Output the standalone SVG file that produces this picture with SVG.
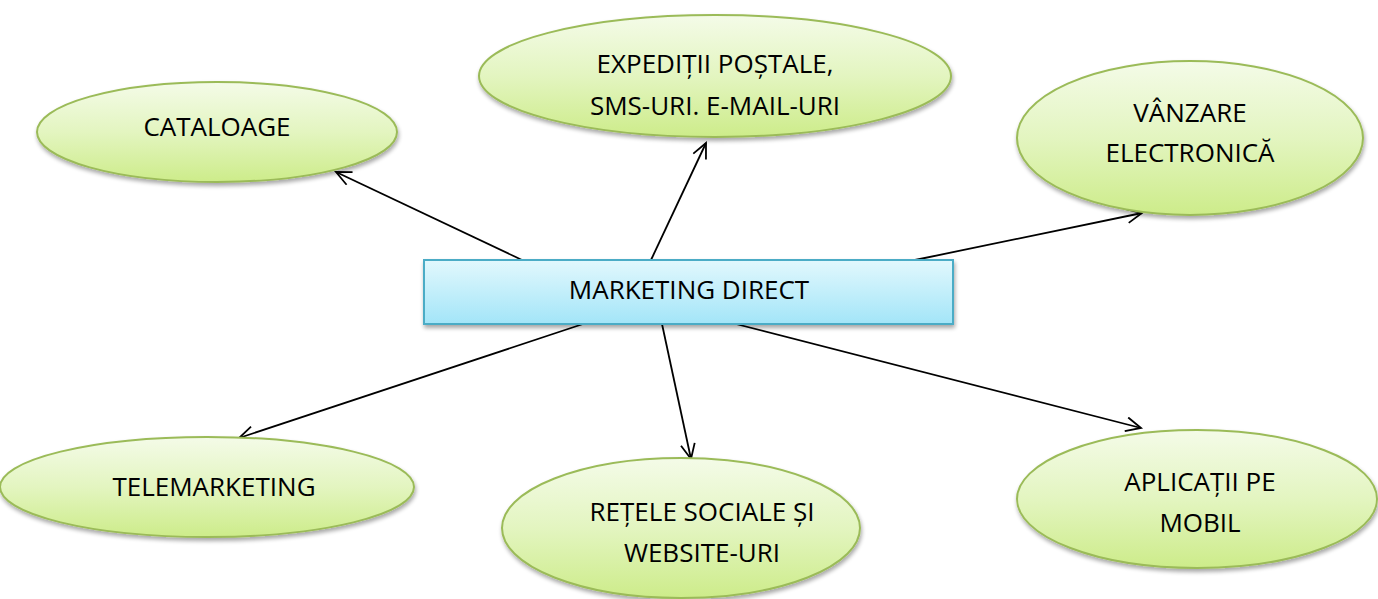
<svg xmlns="http://www.w3.org/2000/svg" width="1378" height="599" viewBox="0 0 1378 599">
<style>
.node text{font-family:"Open Sans","Liberation Sans",sans-serif;font-size:26px;fill:#000;text-anchor:middle}
.ell{fill:url(#gG);stroke:#9bbb59;stroke-width:2;filter:url(#sh)}
.box{fill:url(#gB);stroke:#4bacc6;stroke-width:2;filter:url(#sh)}
.con line{stroke:#000;stroke-width:1.8;marker-end:url(#ah)}
</style>
<defs>
<linearGradient id="gG" x1="0" y1="0" x2="0" y2="1">
<stop offset="0" stop-color="#f4fbe8"/><stop offset="0.5" stop-color="#e3f5c0"/><stop offset="1" stop-color="#cdec8a"/>
</linearGradient>
<linearGradient id="gB" x1="0" y1="0" x2="0" y2="1">
<stop offset="0" stop-color="#e2f8fd"/><stop offset="1" stop-color="#a3e5f8"/>
</linearGradient>
<filter id="sh" x="-10%" y="-10%" width="120%" height="130%">
<feGaussianBlur in="SourceAlpha" stdDeviation="2"/>
<feOffset dx="1" dy="3" result="b"/>
<feComponentTransfer><feFuncA type="linear" slope="0.35"/></feComponentTransfer>
<feMerge><feMergeNode/><feMergeNode in="SourceGraphic"/></feMerge>
</filter>
<marker id="ah" markerWidth="20" markerHeight="20" refX="16" refY="8" orient="auto" markerUnits="userSpaceOnUse">
<path d="M1,1 L16,8 L1,15" fill="none" stroke="#000" stroke-width="1.8"/>
</marker>
</defs>
<g class="con">
<line x1="522" y1="260" x2="336" y2="172"/>
<line x1="651" y1="260" x2="706" y2="143"/>
<line x1="915" y1="260" x2="1142" y2="213"/>
<line x1="583" y1="324" x2="239" y2="438"/>
<line x1="662" y1="324" x2="691" y2="459"/>
<line x1="736" y1="324" x2="1141" y2="428"/>
</g>
<g id="marketing-direct" class="node">
<rect class="box" x="424" y="260" width="529" height="64"/>
<text x="689" y="299">MARKETING DIRECT</text>
</g>
<g id="cataloage" class="node">
<ellipse class="ell" cx="217" cy="132" rx="180" ry="50"/>
<text x="217" y="136">CATALOAGE</text>
</g>
<g id="expeditii" class="node">
<ellipse class="ell" cx="715" cy="76" rx="236" ry="61"/>
<text x="715" y="73">EXPEDIȚII POȘTALE,</text>
<text x="715" y="115">SMS-URI. E-MAIL-URI</text>
</g>
<g id="vanzare" class="node">
<ellipse class="ell" cx="1190" cy="138" rx="173" ry="77"/>
<text x="1190" y="122">VÂNZARE</text>
<text x="1190" y="162">ELECTRONICĂ</text>
</g>
<g id="telemarketing" class="node">
<ellipse class="ell" cx="207" cy="487" rx="207" ry="50"/>
<text x="214" y="496">TELEMARKETING</text>
</g>
<g id="retele" class="node">
<ellipse class="ell" cx="681" cy="528" rx="179" ry="70"/>
<text x="702" y="521">REȚELE SOCIALE ȘI</text>
<text x="702" y="562">WEBSITE-URI</text>
</g>
<g id="aplicatii" class="node">
<ellipse class="ell" cx="1197" cy="499" rx="180" ry="69"/>
<text x="1200" y="491">APLICAȚII PE</text>
<text x="1200" y="532">MOBIL</text>
</g>
</svg>
